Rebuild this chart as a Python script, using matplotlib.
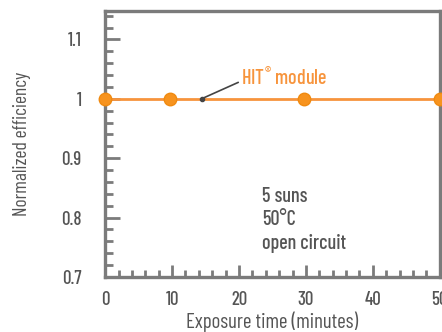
import matplotlib
matplotlib.use("Agg")
import matplotlib.pyplot as plt
from matplotlib.ticker import MultipleLocator

plt.rcParams['font.family'] = ['Barlow Condensed', 'Roboto Condensed', 'DejaVu Sans']
plt.rcParams['font.weight'] = 500

# data
time_min = [0, 9.7, 29.7, 50]
efficiency = [1.0, 1.0, 1.0, 1.0]
x_ticks = [0, 10, 20, 30, 40, 50]
y_ticks = [0.7, 0.8, 0.9, 1.0, 1.1]
y_tick_labels = ["0.7", "0.8", "0.9", "1", "1.1"]
series_label = "HIT$^{\\mathregular{\u00ae}}$ module"
conditions = "5 suns\n50\u00b0C\nopen circuit"

gray = "#7b7b7b"
text_gray = "#555555"
orange = "#f7943c"

fig = plt.figure(figsize=(4.42, 3.32), dpi=100)
ax = fig.add_axes([0.238, 0.166, 0.757, 0.801])

ax.plot(time_min, efficiency, color=orange, lw=2, zorder=3)
ax.plot(time_min, efficiency, 'o', color="#f7931e", mec="#f08a10", ms=9, zorder=4, clip_on=False)

ax.set_xlim(0, 50)
ax.set_ylim(0.7, 1.148)
ax.set_xticks(x_ticks)
ax.set_yticks(y_ticks)
ax.set_yticklabels(y_tick_labels)
ax.xaxis.set_minor_locator(MultipleLocator(2))
ax.yaxis.set_minor_locator(MultipleLocator(0.02))

for s in ax.spines.values():
    s.set_color(gray)
    s.set_linewidth(2.4)

ax.tick_params(axis='both', which='both', direction='in', color=gray, width=2,
               labelcolor=text_gray, labelsize=13.5, top=False, right=False)
ax.tick_params(axis='y', which='major', length=11, pad=17)
ax.tick_params(axis='y', which='minor', length=6)
ax.tick_params(axis='x', which='major', length=9, pad=10)
ax.tick_params(axis='x', which='minor', length=5)

ax.set_xlabel("Exposure time (minutes)", color=text_gray, fontsize=15, labelpad=2)
ax.set_ylabel("Normalized efficiency", color=text_gray, fontsize=14, labelpad=22)

ax.plot([14.4], [1.0], 'o', color="#444444", ms=3, zorder=5)
ax.annotate(series_label, xy=(14.4, 1.0), xytext=(20.3, 1.024),
            color=orange, fontsize=14.5, va='baseline', ha='left',
            arrowprops=dict(arrowstyle='-', color="#444444", lw=1.2,
                            shrinkA=0, shrinkB=0, relpos=(-0.02, 0.3)))

ax.text(23.4, 0.852, conditions, color=text_gray, fontsize=14.5,
        va='top', ha='left', linespacing=1.32)

fig.savefig("out.png", dpi=100)
